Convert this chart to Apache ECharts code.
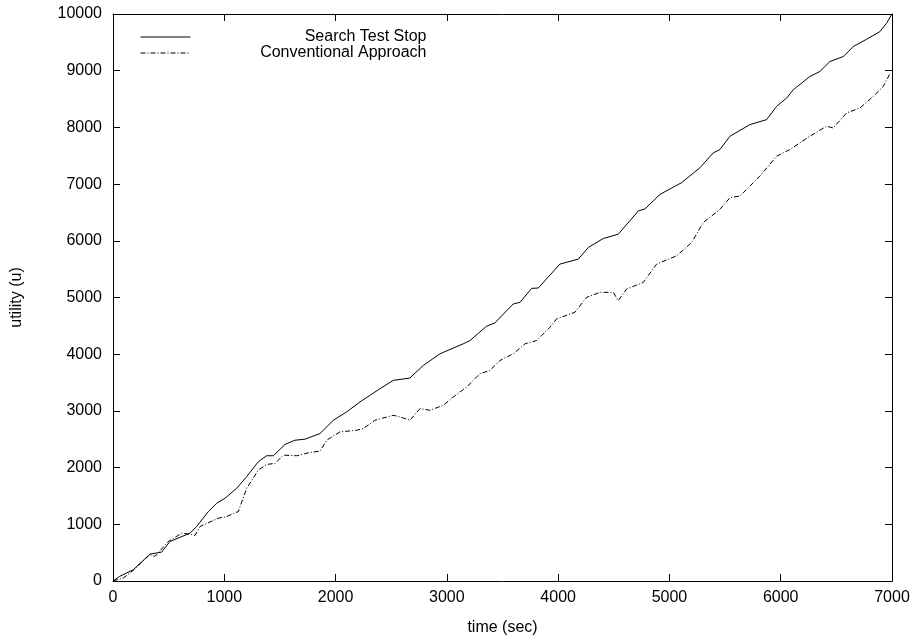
<!DOCTYPE html>
<html>
<head>
<meta charset="utf-8">
<script src="https://cdn.jsdelivr.net/npm/echarts@6/dist/echarts.min.js"></script>
<style>html,body{margin:0;padding:0;background:#fff}#c{width:919px;height:641px}</style>
</head>
<body>
<div id="c"></div>
<script>
// Search Test Stop (solid)
const timeSolid = [0,60,183,332,437,512,692,752,857,932,1006,1111,1201,1306,1381,1441,1545,1635,1725,1860,1980,2100,2219,2399,2519,2668,2788,2938,3147,3208,3357,3432,3537,3597,3657,3762,3822,3926,4016,4181,4271,4405,4540,4720,4780,4915,5109,5274,5394,5454,5544,5723,5873,5963,6053,6113,6262,6352,6442,6562,6652,6772,6891,6951,7000];
const utilSolid = [0,82,200,474,510,697,843,961,1225,1371,1459,1634,1840,2104,2209,2209,2408,2483,2501,2601,2835,2982,3158,3392,3538,3580,3801,4007,4183,4241,4494,4552,4768,4886,4915,5161,5167,5395,5589,5677,5882,6040,6116,6526,6561,6819,7025,7288,7551,7609,7844,8049,8137,8371,8518,8664,8898,8986,9162,9250,9426,9555,9689,9837,10000];
// Conventional Approach (dash-dot)
const timeConv = [0,93,183,332,377,497,617,692,737,782,946,1021,1126,1201,1306,1381,1456,1530,1650,1770,1860,1920,2040,2189,2249,2354,2519,2579,2668,2758,2848,2968,3058,3178,3297,3387,3477,3597,3702,3807,3926,3986,4151,4256,4376,4496,4540,4615,4765,4885,5065,5199,5304,5454,5544,5633,5813,5963,6083,6262,6412,6472,6592,6712,6831,6921,6981];
const utilConv = [0,53,190,468,434,697,843,826,803,961,1107,1137,1225,1634,1956,2056,2074,2220,2209,2267,2290,2483,2630,2659,2688,2835,2923,2894,2835,3040,3011,3099,3246,3421,3655,3714,3889,4007,4183,4241,4476,4622,4740,5003,5091,5091,4944,5149,5267,5589,5735,5970,6322,6555,6761,6790,7141,7492,7610,7844,8020,7990,8255,8342,8546,8722,8946];
const seriesNames = ['Search Test Stop','Conventional Approach'];
const xTitle = 'time (sec)';
const yTitle = 'utility (u)';

const FONT = 'Liberation Sans';
const FS = 16;
const zip = (a,b) => a.map((v,i)=>[v,b[i]]);

const chart = echarts.init(document.getElementById('c'), null, {renderer:'canvas'});
const axisLine = {show:true, onZero:false, lineStyle:{color:'#000', width:1}};
const tick = {show:true, inside:true, length:7, lineStyle:{color:'#000', width:1}};
const lbl = {color:'#000', fontFamily:FONT, fontSize:FS};
const plain = v => String(v);
chart.setOption({
  animation:false,
  backgroundColor:'#fff',
  grid:{left:113, right:27, top:14, bottom:58, containLabel:false},
  legend:{
    orient:'vertical', left:135, top:24, itemGap:0, itemWidth:50, itemHeight:15,
    data: seriesNames,
    itemStyle:{opacity:0},
    lineStyle:{width:1},
    formatter: n => '{a|' + n + '}',
    textStyle:{color:'#000', fontFamily:FONT, fontSize:FS,
      rich:{a:{width:231, height:15, lineHeight:15, align:'right', fontFamily:FONT, fontSize:FS, color:'#000'}}}
  },
  xAxis:[
    {type:'value', min:0, max:7000, interval:1000, position:'bottom',
     name:xTitle, nameLocation:'middle', nameGap:39, nameTextStyle:lbl,
     axisLine, axisTick:tick, axisLabel:Object.assign({margin:9, formatter:plain}, lbl), splitLine:{show:false}},
    {type:'value', min:0, max:7000, interval:1000, position:'top',
     axisLine, axisTick:tick, axisLabel:{show:false}, splitLine:{show:false}}
  ],
  yAxis:[
    {type:'value', min:0, max:10000, interval:1000, position:'left',
     name:yTitle, nameLocation:'middle', nameGap:88, nameTextStyle:lbl,
     axisLine, axisTick:tick, axisLabel:Object.assign({margin:11, formatter:plain}, lbl), splitLine:{show:false}},
    {type:'value', min:0, max:10000, interval:1000, position:'right',
     axisLine, axisTick:tick, axisLabel:{show:false}, splitLine:{show:false}}
  ],
  series:[
    {name:seriesNames[0], type:'line', data:zip(timeSolid, utilSolid), showSymbol:false, symbol:'none',
     lineStyle:{color:'#000', width:1, type:'solid'}, itemStyle:{color:'#000'}},
    {name:seriesNames[1], type:'line', data:zip(timeConv, utilConv), showSymbol:false, symbol:'none',
     lineStyle:{color:'#000', width:1, type:[5,2,1,2]}, itemStyle:{color:'#000'}}
  ]
});
</script>
</body>
</html>
